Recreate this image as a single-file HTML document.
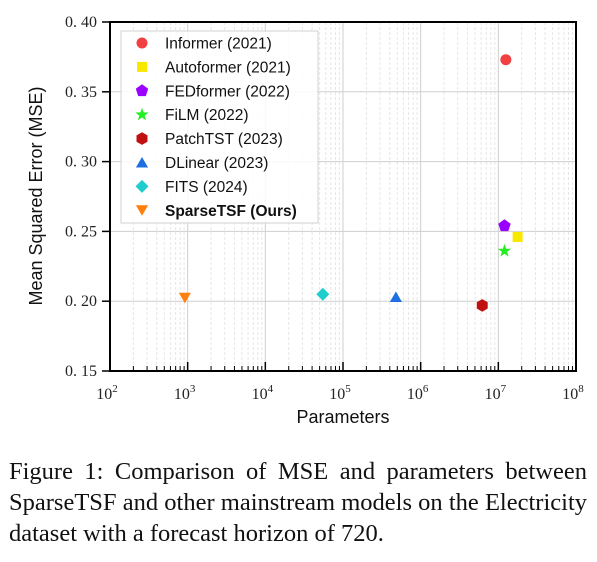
<!DOCTYPE html>
<html><head><meta charset="utf-8"><style>
html,body{margin:0;padding:0;background:#fff;width:597px;height:562px;overflow:hidden}
.cap{position:absolute;left:9px;width:578px;font-family:"Liberation Serif",serif;font-size:24.5px;color:#111;white-space:nowrap}
.just{text-align:justify;text-align-last:justify}
</style></head><body>
<svg id="chart" width="597" height="450" style="position:absolute;left:0;top:0" xmlns="http://www.w3.org/2000/svg"></svg>
<div class="cap just" style="top:458px">Figure 1: Comparison of MSE and parameters between</div>
<div class="cap just" style="top:489px">SparseTSF and other mainstream models on the Electricity</div>
<div class="cap" style="top:520px">dataset with a forecast horizon of 720.</div>
<script>
const models = ["Informer (2021)","Autoformer (2021)","FEDformer (2022)","FiLM (2022)","PatchTST (2023)","DLinear (2023)","FITS (2024)","SparseTSF (Ours)"];
const params = [1.25e7, 1.77e7, 1.2e7, 1.2e7, 6.2e6, 4.8e5, 5.5e4, 920];
const mse = [0.373, 0.246, 0.254, 0.236, 0.197, 0.203, 0.205, 0.2025];
const colors = ["#f04040","#f8e800","#9900ff","#22ee22","#c01010","#1f6fe0","#20cccc","#ff7f0e"];
const shapes = ["circle","square","pentagon","star","hexagon","triangle","diamond","tridown"];
const yTicks = [0.15,0.20,0.25,0.30,0.35,0.40];
const yTickLabels = ["0. 15","0. 20","0. 25","0. 30","0. 35","0. 40"];
const xExps = [2,3,4,5,6,7,8];

const NS="http://www.w3.org/2000/svg";
const svg=document.getElementById('chart');
const L=110,R=576,T=22,B=371;
const X=v=>L+(Math.log10(v)-2)/6*(R-L);
const Y=v=>B-(v-0.15)/0.25*(B-T);
function mk(tag,attrs,parent){const e=document.createElementNS(NS,tag);for(const k in attrs)e.setAttribute(k,attrs[k]);(parent||svg).appendChild(e);return e;}

for(let e=2;e<8;e++){for(let m=2;m<10;m++){const x=X(m*Math.pow(10,e));
const g=mk('line',{x1:x,x2:x,y1:T,y2:B,stroke:'#e6e6e6','stroke-dasharray':'3,2','stroke-width':1});


const t=mk('line',{x1:x,x2:x,y1:B,y2:B-5,stroke:'#000','stroke-width':1});

}}
xExps.forEach(e=>{const x=X(Math.pow(10,e));
const g=mk('line',{x1:x,x2:x,y1:T,y2:B,stroke:'#cfcfcf','stroke-width':1});


const t=mk('line',{x1:x,x2:x,y1:B,y2:B-9,stroke:'#000','stroke-width':1.5});


const tx=mk('text',{x:x-3,y:B+28,'text-anchor':'middle','font-family':'Liberation Serif, serif','font-size':16,fill:'#222'});


tx.textContent='10';const s=mk('tspan',{dy:-7,'font-size':11},tx);s.textContent=e;});
yTicks.forEach((v,i)=>{const y=Y(v);
const g=mk('line',{x1:L,x2:R,y1:y,y2:y,stroke:'#cfcfcf','stroke-width':1});


const t=mk('line',{x1:L-8,x2:L,y1:y,y2:y,stroke:'#000','stroke-width':1.5});


const tx=mk('text',{x:L-13,y:y+5,'text-anchor':'end','font-family':'Liberation Serif, serif','font-size':16,fill:'#222'});


tx.textContent=yTickLabels[i];});
const frame=mk('rect',{x:L,y:T,width:R-L,height:B-T,fill:'none',stroke:'#000','stroke-width':2});



function marker(shape,cx,cy,col,s){
 let el;
 const poly=(n,r,rot)=>{let p=[];for(let i=0;i<n;i++){const a=rot+i*2*Math.PI/n;p.push((cx+r*Math.cos(a)).toFixed(1)+','+(cy+r*Math.sin(a)).toFixed(1));}return p.join(' ');};
 if(shape==='circle')el=mk('circle',{cx,cy,r:5.5*s});
 else if(shape==='square')el=mk('rect',{x:cx-5*s,y:cy-5*s,width:10*s,height:10*s});
 else if(shape==='pentagon')el=mk('polygon',{points:poly(5,6.5*s,-Math.PI/2)});
 else if(shape==='hexagon')el=mk('polygon',{points:poly(6,6.3*s,-Math.PI/2)});
 else if(shape==='diamond')el=mk('polygon',{points:poly(4,6.5*s,0)});
 else if(shape==='triangle')el=mk('polygon',{points:poly(3,7*s,-Math.PI/2).split(' ').map(p=>{const[a,b]=p.split(',');return a+','+(+b+1.5)}).join(' ')});
 else if(shape==='tridown')el=mk('polygon',{points:poly(3,7*s,Math.PI/2).split(' ').map(p=>{const[a,b]=p.split(',');return a+','+(+b-1.5)}).join(' ')});
 else if(shape==='star'){let p=[];for(let i=0;i<10;i++){const r=i%2?2.8*s:7*s;const a=-Math.PI/2+i*Math.PI/5;p.push((cx+r*Math.cos(a)).toFixed(1)+','+(cy+r*Math.sin(a)).toFixed(1));}el=mk('polygon',{points:p.join(' ')});}
 el.setAttribute('fill',col);return el;
}
models.forEach((m,i)=>{const el=marker(shapes[i],X(params[i]),Y(mse[i]),colors[i],1);

});

const lg=mk('rect',{x:121,y:31,width:197,height:192,fill:'#fff','fill-opacity':0.85,stroke:'#d0d0d0','stroke-width':1});


models.forEach((m,i)=>{const y=43+i*23.9;
const mm=marker(shapes[i],142,y,colors[i],1);


const t=mk('text',{x:165,y:y+5.5,'font-family':'Liberation Sans, sans-serif','font-size':15.5,fill:'#111','font-weight':i===7?'bold':'normal'});


t.textContent=m;});

const xt=mk('text',{x:343,y:423,'text-anchor':'middle','font-family':'Liberation Sans, sans-serif','font-size':18,fill:'#111'});


xt.textContent='Parameters';
const yt=mk('text',{x:0,y:0,'text-anchor':'middle','font-family':'Liberation Sans, sans-serif','font-size':18,fill:'#111',transform:'translate(42,196) rotate(-90)'});


yt.textContent='Mean Squared Error (MSE)';
</script>
</body></html>
